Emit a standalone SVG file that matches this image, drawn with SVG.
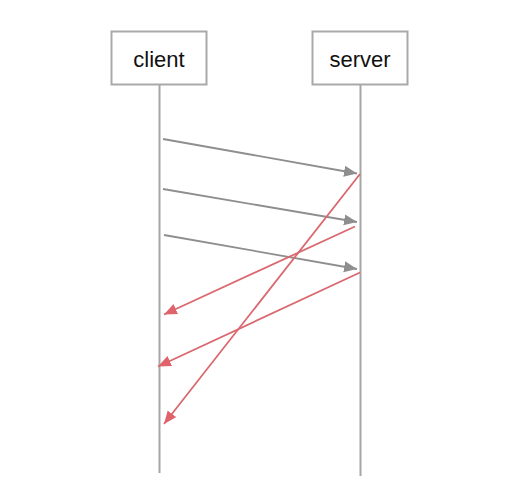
<svg xmlns="http://www.w3.org/2000/svg" width="522" height="502" viewBox="0 0 522 502">
<style>
.box{fill:#fff;stroke:#a9a9a9;stroke-width:2}
.lbl{font-family:"Liberation Sans",Arial,sans-serif;font-size:22px;fill:#111;text-anchor:middle}
.life{stroke:#a6a6a6;stroke-width:2;fill:none}
.req{stroke:#8e8e8e;stroke-width:1.8;fill:none;marker-end:url(#ag)}
.rsp{stroke:#da6870;stroke-width:1.8;fill:none;marker-end:url(#ar)}
</style>
<defs>
<marker id="ag" markerUnits="userSpaceOnUse" markerWidth="14" markerHeight="12" refX="13" refY="5.5" orient="auto" viewBox="0 0 14 12">
<path d="M0,0 L13,5.5 L0,11 Z" fill="#8e8e8e"/>
</marker>
<marker id="ar" markerUnits="userSpaceOnUse" markerWidth="14" markerHeight="12" refX="13" refY="5.5" orient="auto" viewBox="0 0 14 12">
<path d="M0,0 L13,5.5 L0,11 Z" fill="#e0636b"/>
</marker>
</defs>
<rect width="522" height="502" fill="#fff"/>
<g id="client">
<rect class="box" x="111.5" y="31.5" width="95" height="53"/>
<text class="lbl" x="159" y="67">client</text>
<line class="life" x1="159.5" y1="85" x2="159.5" y2="473"/>
</g>
<g id="server">
<rect class="box" x="312.5" y="31.5" width="95" height="53"/>
<text class="lbl" x="360" y="67">server</text>
<line class="life" x1="360.5" y1="85" x2="360.5" y2="476"/>
</g>
<g id="connectors">
<line class="req" x1="163" y1="139" x2="357" y2="173.5"/>
<line class="req" x1="163" y1="189" x2="357" y2="222"/>
<line class="req" x1="164" y1="235" x2="357" y2="269"/>
<line class="rsp" x1="360" y1="174" x2="164" y2="424"/>
<line class="rsp" x1="355" y1="226.5" x2="164" y2="314.5"/>
<line class="rsp" x1="360" y1="272.5" x2="158" y2="366.5"/>
</g>
</svg>
